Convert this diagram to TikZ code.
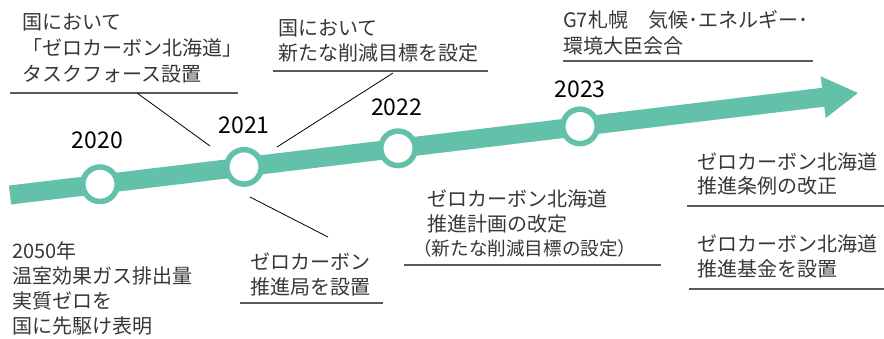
\documentclass[tikz,border=0pt]{standalone}
\usepackage{fontspec}
\setmainfont{Noto Sans CJK JP}
\definecolor{zteal}{RGB}{99,193,170}
\definecolor{txtgray}{RGB}{55,55,55}
\definecolor{linegray}{RGB}{90,90,90}
\begin{document}
\begin{tikzpicture}[x=1pt,y=-1pt,
  txt/.style={anchor=base west, align=left, inner sep=0pt, text=txtgray, font=\fontsize{20}{26}\selectfont},
  txtb/.style={txt, font=\fontsize{20}{25}\selectfont},
  small/.style={anchor=base west, inner sep=0pt, text=txtgray, font=\fontsize{18.6}{20}\selectfont},
  yr/.style={anchor=base, inner sep=0pt, text=black, font=\fontsize{23}{23}\selectfont},
  uline/.style={draw=linegray, line width=1.4pt},
  leader/.style={draw=black, line width=0.8pt},
  ring/.style={circle, draw=zteal, line width=5.5pt, fill=white, minimum size=34.5pt, inner sep=0pt}]
\useasboundingbox (0,0) rectangle (884,338);
% arrow
\coordinate (as) at (10,195);
\coordinate (ae) at (826,96.9);
\coordinate (h1) at (825.7,118.0);
\coordinate (h2) at (858,93);
\coordinate (h3) at (820.7,76.3);
\draw[zteal, line width=19pt] (as) -- (ae);
\fill[zteal] (h1) -- (h2) -- (h3) -- cycle;
% rings
\node[ring] (c2020) at (100,184.2) {};
\node[ring] (c2021) at (244,166.9) {};
\node[ring] (c2022) at (398,148.3) {};
\node[ring] (c2023) at (580,126.4) {};
% years
\node[yr] (y2020) at (97.5,148) {2020};
\node[yr] (y2021) at (244,133) {2021};
\node[yr] (y2022) at (396.7,115) {2022};
\node[yr] (y2023) at (580,97) {2023};
% top-left
\node[txt] (t1) at (22,81.2) {国において\\「ゼロカーボン北海道」\\タスクフォース設置};
\coordinate (u1a) at (10,93);
\coordinate (u1b) at (238,93);
\draw[uline] (u1a) -- (u1b);
\coordinate (l1a) at (137,93);
\coordinate (l1b) at (210,146);
\draw[leader] (l1a) -- (l1b);
% top-middle
\node[txtb] (t2) at (278,60.1) {国において\\新たな削減目標を設定};
\coordinate (u2a) at (273,71);
\coordinate (u2b) at (488,71);
\draw[uline] (u2a) -- (u2b);
\coordinate (l2a) at (393,73);
\coordinate (l2b) at (277,147);
\draw[leader] (l2a) -- (l2b);
% top-right
\node[txt] (t3) at (563,53.6) {G7札幌　気候･エネルギー･\\環境大臣会合};
\coordinate (u3a) at (563,61);
\coordinate (u3b) at (813,61);
\draw[uline] (u3a) -- (u3b);
% bottom-left
\node[txtb] (t4) at (12,333.6) {2050年\\温室効果ガス排出量\\実質ゼロを\\国に先駆け表明};
% bottom-middle
\node[txtb] (t5) at (250,294.6) {ゼロカーボン\\推進局を設置};
\coordinate (u5a) at (240,303);
\coordinate (u5b) at (383,303);
\draw[uline] (u5a) -- (u5b);
\coordinate (l5a) at (250,197);
\coordinate (l5b) at (328,237);
\draw[leader] (l5a) -- (l5b);
% bottom right-middle
\node[txtb] (t6) at (427,231.6) {ゼロカーボン北海道\\推進計画の改定};
\node[small] (t6s) at (413,255) {（新たな削減目標の設定）};
\coordinate (u6a) at (404,265);
\coordinate (u6b) at (661,265);
\draw[uline] (u6a) -- (u6b);
% right
\node[txt, font=\fontsize{20}{24}\selectfont] (t7) at (697,193.6) {ゼロカーボン北海道\\推進条例の改正};
\coordinate (u7a) at (687,206);
\coordinate (u7b) at (884,206);
\draw[uline] (u7a) -- (u7b);
\node[txtb] (t8) at (697,276.6) {ゼロカーボン北海道\\推進基金を設置};
\coordinate (u8a) at (689,289);
\coordinate (u8b) at (884,289);
\draw[uline] (u8a) -- (u8b);
\end{tikzpicture}
\end{document}
